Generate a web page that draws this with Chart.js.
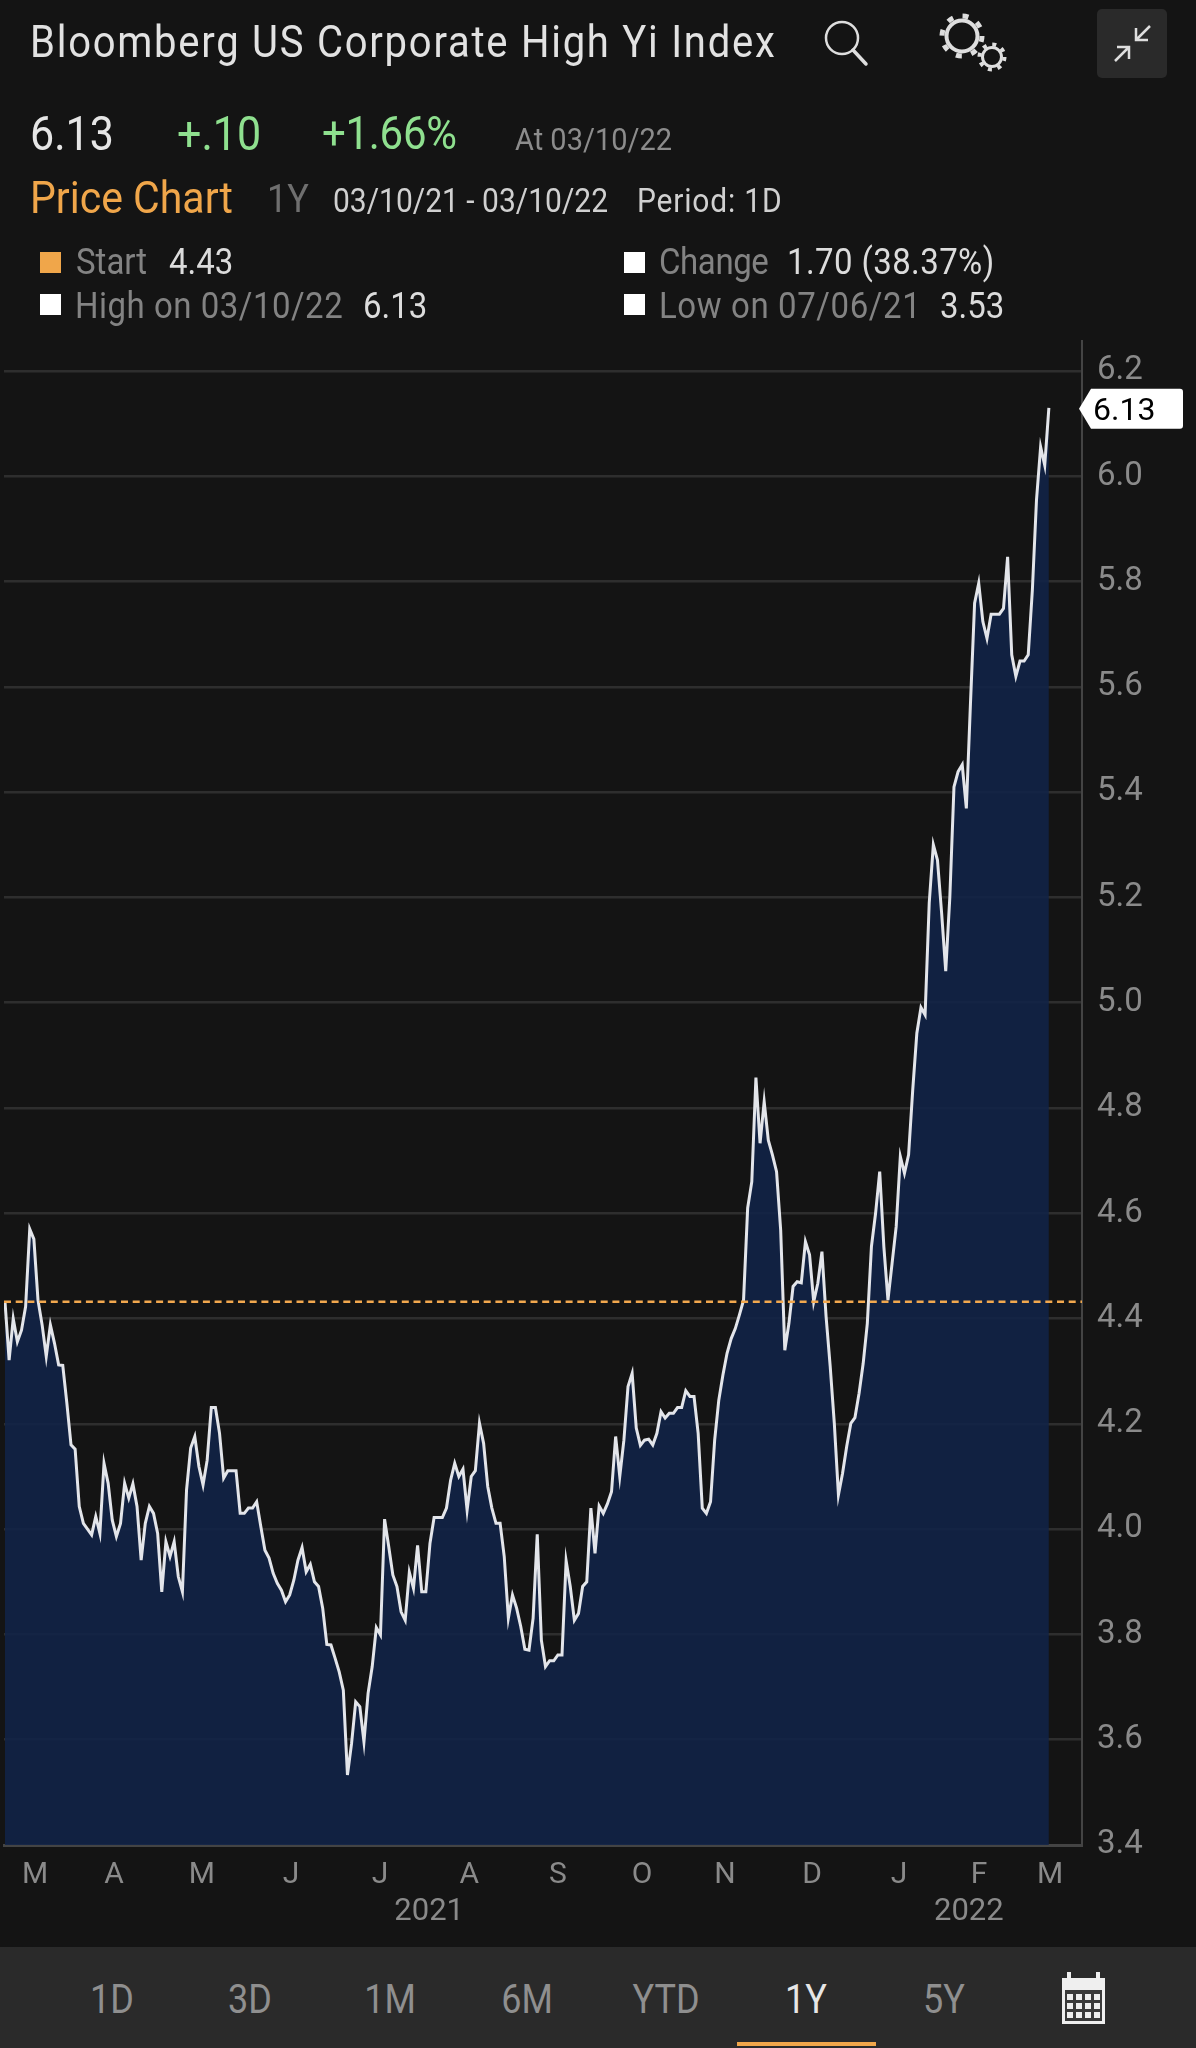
<!DOCTYPE html>
<html>
<head>
<meta charset="utf-8">
<title>Bloomberg US Corporate High Yi Index</title>
<script src="https://cdn.jsdelivr.net/npm/chart.js@4"></script>
<style>
  html, body { margin: 0; padding: 0; background: #141414; }
  body { position: relative; width: 1196px; height: 2048px; overflow: hidden; font-family: Roboto, sans-serif; }
  #priceChart { position: absolute; left: 0; top: 0; }
  .t { position: absolute; white-space: nowrap; line-height: 1; transform: scaleY(1.1); transform-origin: 0 85%; }
  .sq { position: absolute; width: 21px; height: 21px; background: #fff; }
  #bar { position: absolute; left: 0; top: 1947px; width: 1196px; height: 101px; background: #2a2a2a; }
  .rng { top: 2014px; font-size: 36px; color: #8f8f8f; transform: translate(-50%, -85%) scaleY(1.12); }
  svg { position: absolute; left: 0; top: 0; }
</style>
</head>
<body>
<canvas id="priceChart" width="1196" height="1947"></canvas>

<div class="t" style="left:30px;top:24px;font-size:40px;color:#e2e2e2;letter-spacing:1.75px">Bloomberg US Corporate High Yi Index</div>

<div class="t" style="left:30px;top:114px;font-size:43px;color:#e6e6e6">6.13</div>
<div class="t" style="left:177px;top:114px;font-size:43px;color:#8fe08f">+.10</div>
<div class="t" style="left:322px;top:114px;font-size:42px;color:#8fe08f;letter-spacing:-0.3px">+1.66%</div>
<div class="t" style="left:515px;top:126px;font-size:29px;color:#8c8c8c">At 03/10/22</div>

<div class="t" style="left:30px;top:179px;font-size:41px;color:#f0a64a">Price Chart</div>
<div class="t" style="left:267px;top:182px;font-size:36px;color:#6f6f6f">1Y</div>
<div class="t" style="left:333px;top:187px;font-size:30px;color:#d0d0d0">03/10/21 - 03/10/22</div>
<div class="t" style="left:637px;top:187px;font-size:30px;color:#d0d0d0;letter-spacing:0.8px">Period: 1D</div>

<div class="sq" style="left:40px;top:252px;background:#f0a64a"></div>
<div class="t" style="left:76px;top:246px;font-size:33px;color:#838383">Start</div>
<div class="t" style="left:169px;top:246px;font-size:33px;color:#dcdcdc">4.43</div>
<div class="sq" style="left:40px;top:294px"></div>
<div class="t" style="left:75px;top:290px;font-size:33px;color:#838383;letter-spacing:0.5px">High on 03/10/22</div>
<div class="t" style="left:363px;top:290px;font-size:33px;color:#dcdcdc">6.13</div>
<div class="sq" style="left:624px;top:252px"></div>
<div class="t" style="left:659px;top:246px;font-size:33px;color:#838383;letter-spacing:-0.4px">Change</div>
<div class="t" style="left:787px;top:246px;font-size:33px;color:#dcdcdc;letter-spacing:0.4px">1.70 (38.37%)</div>
<div class="sq" style="left:624px;top:294px"></div>
<div class="t" style="left:659px;top:290px;font-size:33px;color:#838383;letter-spacing:0.6px">Low on 07/06/21</div>
<div class="t" style="left:940px;top:290px;font-size:33px;color:#dcdcdc">3.53</div>

<svg width="1196" height="100" fill="none" stroke="#dedede">
  <circle cx="842" cy="38" r="16" stroke-width="2.5"/>
  <line x1="853" y1="50" x2="866" y2="64" stroke-width="3.5" stroke-linecap="round"/>
  <circle cx="962" cy="36" r="15.5" stroke-width="4"/>
  <circle cx="962" cy="36" r="20" stroke-width="5" stroke-dasharray="6 9.7"/>
  <circle cx="992" cy="57" r="9.5" stroke-width="3"/>
  <circle cx="992" cy="57" r="12.5" stroke-width="4" stroke-dasharray="4 5.8"/>
  <rect x="1097" y="9" width="70" height="69" rx="5" fill="#2a2a2a" stroke="none"/>
  <path d="M1150 26 L1136 40 M1136 28 L1136 40 L1148 40 M1115 61 L1129 47 M1117 47 L1129 47 L1129 59" stroke-width="2.5"/>
</svg>

<div id="bar"></div>
<div class="t rng" style="left:112px">1D</div>
<div class="t rng" style="left:250px">3D</div>
<div class="t rng" style="left:390px">1M</div>
<div class="t rng" style="left:527px">6M</div>
<div class="t rng" style="left:666px">YTD</div>
<div class="t rng" style="left:806px;color:#e6e6e6">1Y</div>
<div class="t rng" style="left:944px">5Y</div>
<div style="position:absolute;left:737px;top:2042px;width:139px;height:4px;background:#f0a64a"></div>
<svg style="top:1960px;left:1040px" width="90" height="80">
  <rect x="22" y="18" width="43" height="46" fill="#efefef"/>
  <rect x="27" y="12" width="4" height="8" fill="#efefef"/>
  <rect x="56" y="12" width="4" height="8" fill="#efefef"/>
  <rect x="25" y="30" width="37" height="31" fill="#3a3a3a"/>
  <path d="M27 34h6v6h-6zM36 34h6v6h-6zM45 34h6v6h-6zM54 34h6v6h-6zM27 43h6v6h-6zM36 43h6v6h-6zM45 43h6v6h-6zM54 43h6v6h-6zM27 52h6v6h-6zM36 52h6v6h-6zM45 52h6v6h-6zM54 52h6v6h-6z" fill="#efefef"/>
</svg>

<script>
// daily close, 03/10/21 to 03/10/22
const priceValues = [
  4.432, 4.321, 4.400, 4.356, 4.378, 4.423, 4.570, 4.551, 4.435, 4.388,
  4.328, 4.388, 4.353, 4.312, 4.311, 4.239, 4.160, 4.152, 4.043, 4.011,
  4.000, 3.989, 4.024, 3.992, 4.125, 4.087, 4.017, 3.986, 4.011, 4.087,
  4.059, 4.086, 4.043, 3.941, 4.011, 4.043, 4.030, 3.992, 3.881, 3.976,
  3.948, 3.976, 3.910, 3.881, 4.074, 4.154, 4.176, 4.119, 4.084, 4.131,
  4.231, 4.231, 4.182, 4.097, 4.111, 4.111, 4.111, 4.030, 4.030, 4.040,
  4.040, 4.052, 4.005, 3.960, 3.945, 3.916, 3.897, 3.884, 3.862, 3.875,
  3.903, 3.941, 3.965, 3.919, 3.933, 3.900, 3.891, 3.850, 3.781, 3.780,
  3.755, 3.729, 3.694, 3.533, 3.593, 3.672, 3.663, 3.596, 3.688, 3.739,
  3.813, 3.799, 4.019, 3.967, 3.913, 3.891, 3.843, 3.827, 3.918, 3.888,
  3.969, 3.881, 3.881, 3.973, 4.022, 4.022, 4.022, 4.040, 4.093, 4.125,
  4.100, 4.114, 4.036, 4.100, 4.111, 4.201, 4.163, 4.081, 4.040, 4.011,
  4.011, 3.948, 3.831, 3.875, 3.850, 3.815, 3.772, 3.770, 3.831, 3.990,
  3.789, 3.739, 3.750, 3.750, 3.761, 3.761, 3.940, 3.891, 3.827, 3.840,
  3.891, 3.900, 4.040, 3.954, 4.044, 4.030, 4.048, 4.071, 4.176, 4.100,
  4.169, 4.271, 4.296, 4.192, 4.159, 4.169, 4.171, 4.160, 4.182, 4.223,
  4.211, 4.220, 4.220, 4.231, 4.231, 4.263, 4.252, 4.252, 4.182, 4.040,
  4.030, 4.052, 4.169, 4.245, 4.293, 4.334, 4.362, 4.381, 4.407, 4.435,
  4.610, 4.660, 4.858, 4.733, 4.812, 4.739, 4.711, 4.679, 4.568, 4.340,
  4.391, 4.461, 4.470, 4.468, 4.546, 4.521, 4.432, 4.467, 4.527, 4.404,
  4.309, 4.201, 4.065, 4.106, 4.157, 4.201, 4.212, 4.258, 4.315, 4.391,
  4.537, 4.600, 4.679, 4.537, 4.435, 4.505, 4.575, 4.708, 4.676, 4.711,
  4.834, 4.942, 4.991, 4.977, 5.189, 5.300, 5.271, 5.171, 5.060, 5.201,
  5.410, 5.439, 5.452, 5.369, 5.569, 5.759, 5.797, 5.724, 5.692, 5.738,
  5.738, 5.738, 5.749, 5.847, 5.661, 5.620, 5.649, 5.649, 5.661, 5.784,
  5.955, 6.056, 6.021, 6.13
];
const startValue = 4.432;
const lastValue = "6.13";

const yTicks = [3.4, 3.6, 3.8, 4.0, 4.2, 4.4, 4.6, 4.8, 5.0, 5.2, 5.4, 5.6, 5.8, 6.0, 6.2];
const monthLabels = ["M", "A", "M", "J", "J", "A", "S", "O", "N", "D", "J", "F", "M"];
const monthPos = [7.3, 26.4, 47.7, 69.3, 90.9, 112.5, 134, 154.4, 174.5, 195.6, 216.7, 236.1, 253.3];
const yearLabels = ["2021", "2022"];
const yearPos = [102.8, 233.6];

const xMin = -0.24;
const xMax = 261.03;
const grey = "#8a8a8a";
const fontName = "Roboto, sans-serif";

// small white tag with the last price, on the right axis
const lastTag = {
  id: "lastTag",
  afterDraw(chart) {
    const c = chart.ctx;
    const y = chart.scales.y.getPixelForValue(parseFloat(lastValue)) + 1;
    c.save();
    c.fillStyle = "#fff";
    c.beginPath();
    c.moveTo(1079, y);
    c.lineTo(1091, y - 20);
    c.lineTo(1180, y - 20);
    c.quadraticCurveTo(1183, y - 20, 1183, y - 17);
    c.lineTo(1183, y + 17);
    c.quadraticCurveTo(1183, y + 20, 1180, y + 20);
    c.lineTo(1091, y + 20);
    c.closePath();
    c.fill();
    c.fillStyle = "#000";
    c.font = "32px " + fontName;
    c.textBaseline = "middle";
    c.fillText(lastValue, 1093, y + 3);
    c.restore();
  },
};

const ctx = document.querySelector("#priceChart");
const myChart = new Chart(ctx, {
  type: "line",
  data: {
    datasets: [
      {
        data: [{ x: xMin, y: startValue }, { x: xMax, y: startValue }],
        borderColor: "#f2a84e",
        borderWidth: 2.5,
        borderDash: [7, 4.7],
        pointRadius: 0,
        fill: false,
        order: 0,
      },
      {
        data: priceValues.map((v, i) => ({ x: i, y: v })),
        borderColor: "#e3e5ea",
        borderWidth: 3,
        borderJoinStyle: "miter",
        backgroundColor: "rgba(17, 35, 72, 0.88)",
        pointRadius: 0,
        tension: 0,
        fill: "start",
        order: 1,
      },
    ],
  },
  options: {
    responsive: false,
    animation: false,
    parsing: false,
    layout: { padding: { left: 4, top: 341 } },
    plugins: { legend: { display: false }, title: { display: false }, tooltip: { enabled: false } },
    scales: {
      x: {
        type: "linear",
        position: "bottom",
        min: xMin,
        max: xMax,
        afterBuildTicks: (axis) => { axis.ticks = monthPos.map((p) => ({ value: p })); },
        afterFit: (axis) => { axis.height = 41; },
        grid: { display: false },
        border: { color: "#444", width: 3 },
        ticks: {
          autoSkip: false,
          maxRotation: 0,
          padding: 4,
          color: grey,
          font: { family: fontName, size: 30 },
          callback: (v, i) => monthLabels[i],
        },
      },
      xYear: {
        type: "linear",
        position: "bottom",
        min: xMin,
        max: xMax,
        afterBuildTicks: (axis) => { axis.ticks = yearPos.map((p) => ({ value: p })); },
        afterFit: (axis) => { axis.height = 61; },
        grid: { display: false },
        border: { display: false },
        ticks: {
          autoSkip: false,
          maxRotation: 0,
          padding: 0,
          color: grey,
          font: { family: fontName, size: 31 },
          callback: (v, i) => yearLabels[i],
        },
      },
      y: {
        type: "linear",
        position: "right",
        min: 3.4,
        max: 6.257,
        afterBuildTicks: (axis) => { axis.ticks = yTicks.map((v) => ({ value: v })); },
        afterFit: (axis) => { axis.width = 114; },
        grid: { color: "#2e2e2e", lineWidth: 2.5, drawTicks: false },
        border: { color: "#444", width: 2 },
        ticks: {
          padding: 15,
          color: grey,
          font: { family: fontName, size: 33 },
          callback: (v) => v.toFixed(1),
        },
      },
    },
  },
  plugins: [lastTag],
});
</script>
</body>
</html>
